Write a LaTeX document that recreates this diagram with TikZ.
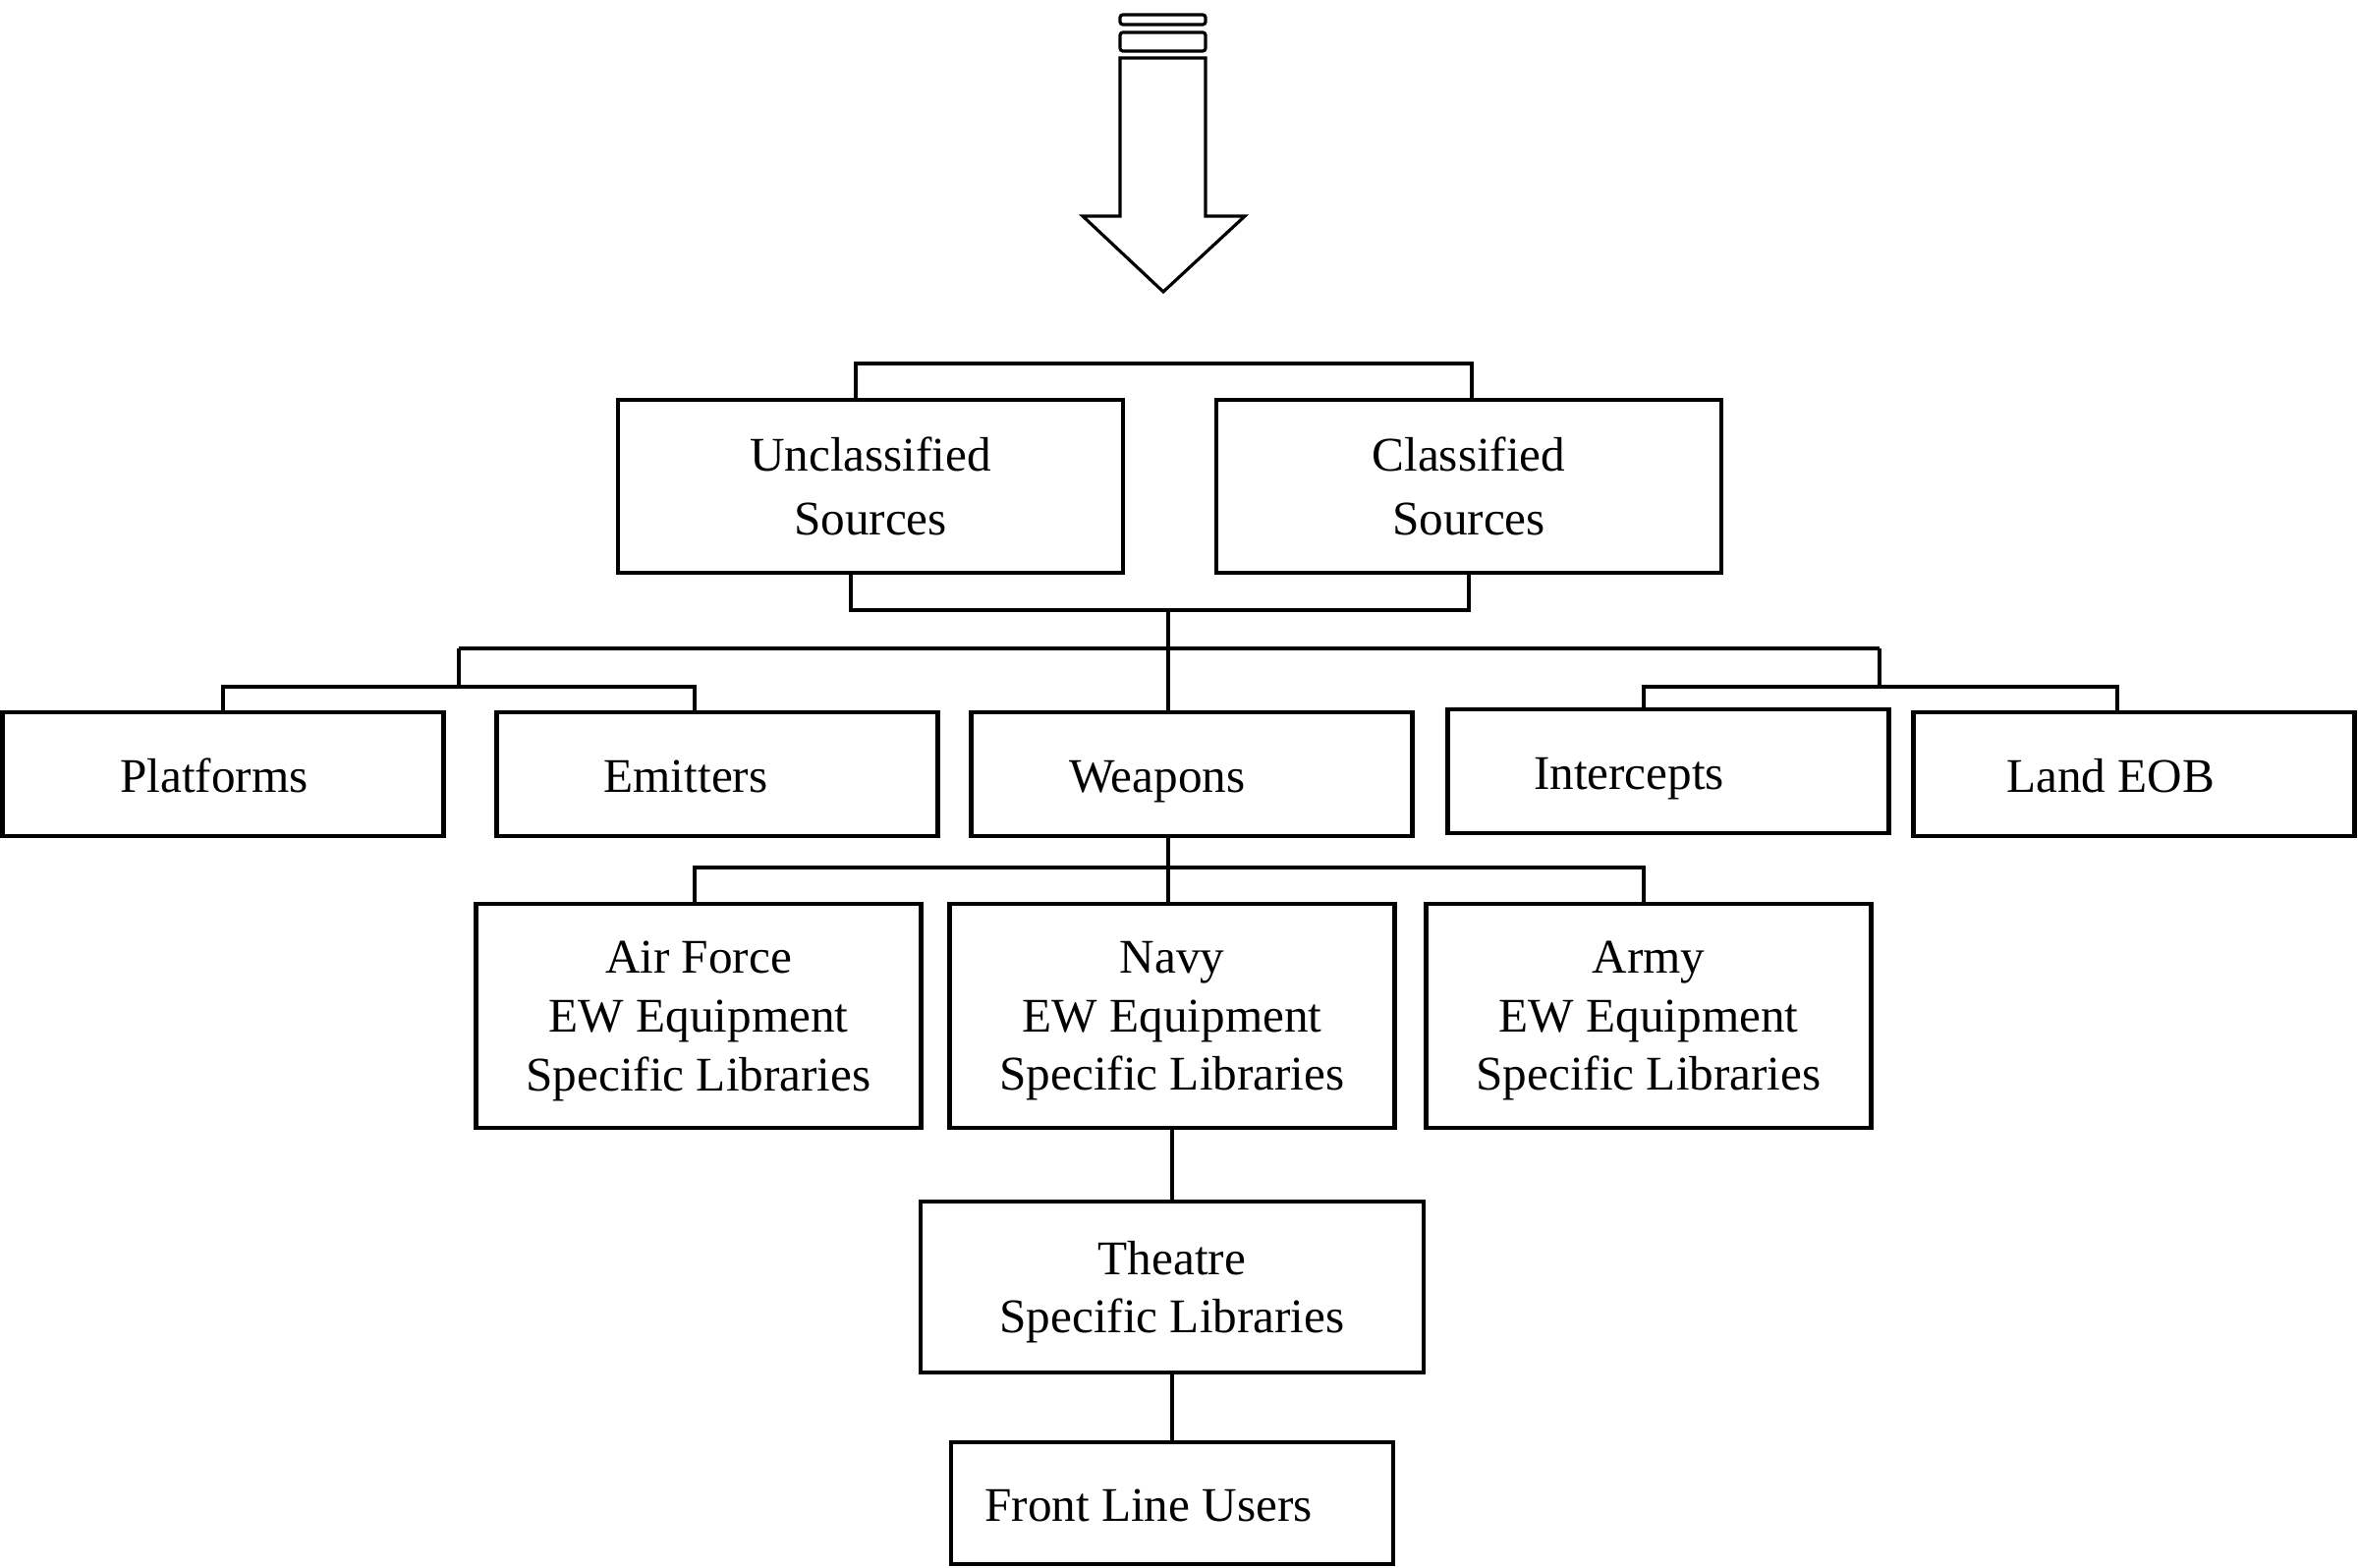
\documentclass[tikz,border=0pt]{standalone}
\usepackage{fontspec}
\setmainfont{Liberation Serif}
\usepackage{tikz}
\tikzset{
	box/.style = {draw=black, line width=1.3pt, inner sep=0pt,
		font=\fontsize{14pt}{17pt}\selectfont},
	src_box/.style = {box, align=center, minimum width=51.4mm, minimum height=17.6mm,
		font=\fontsize{14pt}{18.4pt}\selectfont},
	cat_box/.style = {box, minimum width=44.9mm, minimum height=12.6mm,
		text height=4mm, text depth=0.35mm},
	lib_box/.style = {box, align=center, text depth=0pt, minimum width=45.3mm, minimum height=22.8mm},
	tshift/.style = {execute at end node={\hspace*{#1}}},
	link/.style = {line width=1.2pt}
}
\begin{document}
\begin{tikzpicture}[x=0.1mm, y=-0.1mm, link]
\useasboundingbox (0,0) rectangle (2400,1596);
% incoming arrow
\draw[line width=0.9pt, rounded corners=0.8pt] (1140,15) rectangle (1227,25);
\draw[line width=0.9pt, rounded corners=0.8pt] (1140,33) rectangle (1227,52);
\draw[line width=0.9pt, line join=miter] (1140,59) -- (1140,220) -- (1102,220) -- (1184,297)
	-- (1267,220) -- (1227,220) -- (1227,59) -- cycle;

\node [src_box] (unc) at (886,495) {Unclassified\\Sources};
\node [src_box] (cls) at (1495,495) {Classified\\Sources};

\node [cat_box, tshift=1.8mm] (plat) at (227,788) {Platforms};
\node [cat_box, tshift=6.4mm] (emit) at (730,788) {Emitters};
\node [cat_box, tshift=7mm] (weap) at (1213,788) {Weapons};
\node [cat_box, tshift=8mm] (inter) at (1698,785) {Intercepts};
\node [cat_box, tshift=4.8mm] (land) at (2172,788) {Land EOB};

\node [lib_box] (air) at (711,1034) {Air Force\\EW Equipment\\Specific Libraries};
\node [lib_box] (navy) at (1193,1034) {Navy\\EW Equipment\\Specific Libraries};
\node [lib_box] (army) at (1678,1034) {Army\\EW Equipment\\Specific Libraries};

\node [lib_box, minimum width=51.2mm, minimum height=17.4mm] (theat) at (1193,1310) {Theatre\\Specific Libraries};
\node [cat_box, minimum width=45mm, minimum height=12.4mm, tshift=4.8mm] (front) at (1193,1530) {Front Line Users};

\coordinate (tl) at (871,370);
\coordinate (tr) at (1498,370);
\draw (tl |- unc.north) -- (tl) -- (tr) -- (tr |- cls.north);

\coordinate (bl) at (866,621);
\coordinate (br) at (1495,621);
\coordinate (jn) at (1189,621);
\draw (bl |- unc.south) -- (bl) -- (br) -- (br |- cls.south);
\draw (jn) -- (jn |- weap.north);

\coordinate (hl) at (467,660);
\coordinate (hr) at (1913,660);
\draw (hl) -- (hr);
\coordinate (la) at (227,699);
\coordinate (lz) at (707,699);
\draw (hl) -- (hl |- la);
\draw (la |- plat.north) -- (la) -- (lz) -- (lz |- emit.north);
\coordinate (ra) at (1673,699);
\coordinate (rz) at (2155,699);
\draw (hr) -- (hr |- ra);
\draw (ra |- inter.north) -- (ra) -- (rz) -- (rz |- land.north);

\coordinate (wj) at (1189,883);
\coordinate (wa) at (707,883);
\coordinate (wz) at (1673,883);
\draw (wj |- weap.south) -- (wj) -- (wj |- navy.north);
\draw (wa |- air.north) -- (wa) -- (wz) -- (wz |- army.north);

\draw (navy.south) -- (theat.north);
\draw (theat.south) -- (front.north);
\end{tikzpicture}
\end{document}
